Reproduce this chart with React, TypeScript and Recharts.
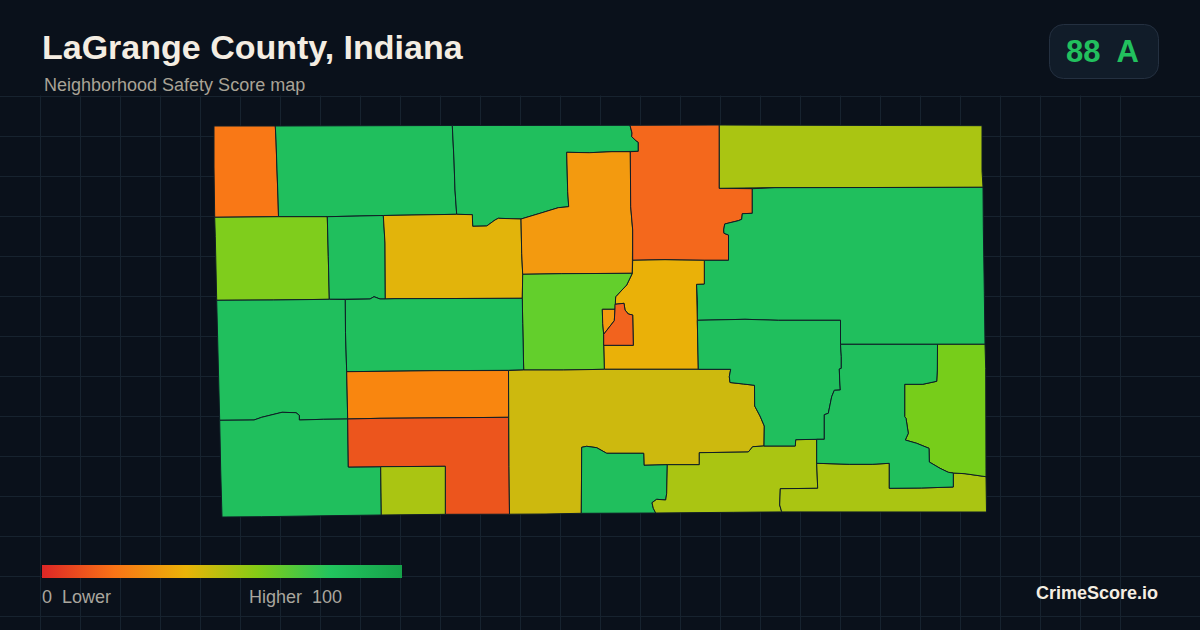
import React from "react";
import {
  CartesianGrid,
  ReferenceArea,
  Scatter,
  ScatterChart,
  XAxis,
  YAxis,
} from "recharts";

type Vertex = [number, number];

// tract outlines, in map units
const tractNorthwestCorner: Vertex[] = [[214, 126], [275.3, 126], [276, 140], [277, 170], [278, 198], [278.5, 216.7], [214.7, 217.3], [214, 167]];
const tractNorthA: Vertex[] = [[275.3, 126], [452.3, 125.5], [454, 160], [455, 190], [456.7, 214.3], [383.3, 215.5], [327.3, 216.7], [278.5, 216.7], [278, 198], [277, 170], [276, 140]];
const tractNorthB: Vertex[] = [[452.3, 125.5], [630, 125.3], [632, 133], [631.7, 136.7], [636, 140.7], [638.3, 142.3], [638.3, 151.3], [612, 151.7], [589.3, 152.7], [566.7, 152.3], [567.7, 191.7], [568.7, 206.7], [558.3, 207.7], [540, 213.3], [521, 219], [498.3, 218.3], [495, 220], [486.7, 226], [472.7, 226.3], [472.3, 214.7], [456.7, 214.3], [455, 190], [454, 160]];
const tractWestLime: Vertex[] = [[214.7, 217.3], [278.5, 216.7], [327.3, 216.7], [328.3, 256.7], [329.3, 299.3], [273.3, 300], [216.7, 300.3], [215.3, 236.7]];
const tractNarrow: Vertex[] = [[327.3, 216.7], [383.3, 215.5], [385, 243], [385.3, 299], [380, 299], [374, 296.7], [370, 299], [329.3, 299.3], [328.3, 256.7]];
const tractNorthYellow: Vertex[] = [[383.3, 215.5], [456.7, 214.3], [472.3, 214.7], [472.7, 226.3], [486.7, 226], [495, 220], [498.3, 218.3], [521, 219], [521.7, 253.3], [522.7, 274.3], [522.3, 298.3], [395, 298.7], [385.3, 299], [385, 243]];
const tractOrange: Vertex[] = [[521, 219], [540, 213.3], [558.3, 207.7], [568.7, 206.7], [567.7, 191.7], [566.7, 152.3], [589.3, 152.7], [612, 151.7], [630.3, 151.7], [630.7, 206.7], [632.7, 230], [632.3, 273.3], [561.7, 273.7], [522.7, 274.3], [521.7, 253.3]];
const tractNorthRed: Vertex[] = [[630, 125.3], [719.3, 125], [719.3, 188.3], [752.3, 188.7], [752.3, 213.3], [742.3, 213.7], [741.7, 219.3], [738.3, 220.7], [724.7, 224], [723.7, 230], [724, 233.3], [728.5, 235], [728.5, 260.3], [704.3, 260.3], [680, 260], [665, 259.7], [632.7, 260.3], [632.7, 230], [630.7, 206.7], [630.3, 151.7], [638.3, 151.3], [638.3, 142.3], [636, 140.7], [631.7, 136.7], [632, 133]];
const tractNortheastOlive: Vertex[] = [[719.3, 125], [888, 125.5], [982, 125.7], [982, 170.7], [983, 187.3], [775, 187.7], [719.3, 188.3]];
const tractEastLarge: Vertex[] = [[752.3, 188.7], [775, 187.7], [983, 187.3], [983.3, 226.7], [984.3, 292.7], [985, 344.3], [937.7, 344.3], [840.5, 344.3], [840.5, 320.3], [778.3, 320.3], [745, 319.3], [697.3, 320.3], [697.3, 300.7], [696.5, 284.3], [704.3, 284], [704.3, 260.3], [728.5, 260.3], [728.5, 235], [724, 233.3], [723.7, 230], [724.7, 224], [738.3, 220.7], [741.7, 219.3], [742.3, 213.7], [752.3, 213.3]];
const tractCentreYellow: Vertex[] = [[632.7, 260.3], [665, 259.7], [680, 260], [704.3, 260.3], [704.3, 284], [696.5, 284.3], [697.3, 320.3], [698.3, 369.3], [604.3, 369.3], [603.7, 345.3], [633.3, 345.3], [632.7, 315], [628.3, 314], [625, 310], [624, 303.3], [615, 304.3], [615.7, 296.7], [626.7, 285], [632.3, 273.3]];
const tractCentreLime: Vertex[] = [[522.7, 274.3], [561.7, 273.7], [632.3, 273.3], [626.7, 285], [615.7, 296.7], [615, 309.3], [602.3, 309.3], [602.7, 323.3], [603.7, 334.3], [603.7, 345.3], [604.3, 369.3], [563.3, 370], [523.7, 370], [522.7, 323.3], [522.3, 298.3]];
const tractTownOrange: Vertex[] = [[602.3, 309.3], [615, 309.3], [614.3, 320.7], [603.7, 334.3], [602.7, 323.3]];
const tractTownRed: Vertex[] = [[615, 304.3], [624, 303.3], [625, 310], [628.3, 314], [632.7, 315], [633.3, 345.3], [603.7, 345.3], [603.7, 334.3], [614.3, 320.7], [615, 309.3]];
const tractWestGreen: Vertex[] = [[216.7, 300.3], [273.3, 300], [329.3, 299.3], [345.3, 299.5], [345.5, 332.7], [346.7, 371.7], [347.7, 419], [323.3, 419.3], [299.3, 420], [299.3, 415.3], [296, 412.7], [282, 412.3], [261.7, 417.3], [254, 420], [219.7, 420.3], [218, 353]];
const tractSouthwest: Vertex[] = [[219.7, 420.3], [254, 420], [261.7, 417.3], [282, 412.3], [296, 412.7], [299.3, 415.3], [299.3, 420], [323.3, 419.3], [347.7, 419], [348.3, 467], [380.7, 466.7], [381.3, 515], [342, 515.5], [261.7, 516.7], [222, 517], [220.7, 470]];
const tractMiddleGreen: Vertex[] = [[345.3, 299.5], [370, 299], [374, 296.7], [380, 299], [385.3, 299], [395, 298.7], [522.3, 298.3], [522.7, 323.3], [523.7, 370], [508.5, 370.3], [435, 370.7], [346.7, 371.7], [345.5, 332.7]];
const tractOrangeStrip: Vertex[] = [[346.7, 371.7], [435, 370.7], [508.5, 370.5], [508.5, 417.3], [460, 417.7], [380, 418.3], [347.7, 419]];
const tractSouthRed: Vertex[] = [[347.7, 419], [380, 418.3], [460, 417.7], [508.5, 417.3], [509, 466.7], [509.5, 514.2], [445.3, 514.3], [445.3, 466.3], [380.7, 466.7], [348.3, 467]];
const tractSouthOlive: Vertex[] = [[380.7, 466.7], [445.3, 466.3], [445.3, 514.3], [381.3, 515]];
const tractBigYellow: Vertex[] = [[508.5, 370.5], [523.7, 370], [563.3, 370], [604.3, 369.3], [698.3, 369.3], [730.7, 369.3], [729.3, 376.7], [730, 382.5], [743.3, 384], [754.5, 385.3], [754.7, 406], [760, 416], [764.3, 426], [764, 446], [752.7, 446.7], [748.3, 452], [699.3, 452.7], [699.3, 464.7], [667.3, 464.7], [644, 465.3], [643.7, 453.3], [606.7, 453.3], [596.7, 447.7], [586.7, 446.3], [581.7, 447.3], [581.3, 513.3], [545, 514], [509.5, 514.2], [509, 466.7]];
const tractSouthGreen: Vertex[] = [[581.7, 447.3], [586.7, 446.3], [596.7, 447.7], [606.7, 453.3], [643.7, 453.3], [644, 465.3], [667.3, 464.7], [666.7, 493.3], [665.7, 500], [656.7, 499.3], [652, 502.7], [653.3, 508.3], [655.7, 513], [581.3, 513.3]];
const tractSouthMidOlive: Vertex[] = [[667.3, 464.7], [699.3, 464.7], [699.3, 452.7], [748.3, 452], [752.7, 446.7], [764, 446], [795.3, 446], [795.7, 439.7], [816.7, 439.3], [816.7, 463.3], [817.7, 488.3], [780.3, 488.7], [779.7, 505], [781.7, 511.9], [733.3, 512.3], [655.7, 513], [653.3, 508.3], [652, 502.7], [656.7, 499.3], [665.7, 500], [666.7, 493.3]];
const tractSoutheastOlive: Vertex[] = [[816.7, 463.3], [849.3, 464.3], [872.3, 464.3], [889.3, 463.3], [889.3, 488.3], [921.7, 488], [953.3, 487], [953.3, 473], [965, 473.7], [986, 476.7], [986.5, 512], [781.7, 511.9], [779.7, 505], [780.3, 488.7], [817.7, 488.3]];
const tractEastLime: Vertex[] = [[937.5, 344.3], [985, 344.3], [985.7, 368.3], [986, 476.7], [965, 473.7], [953.3, 473], [948.3, 472.3], [940, 468.3], [929.3, 462], [929, 448.3], [916.7, 443.3], [905.3, 440], [908.3, 433.3], [906, 418.3], [904.7, 416.7], [904.7, 384.3], [922.7, 384.3], [936.7, 381.3], [937.3, 370]];
const tractCentreEast: Vertex[] = [[697.3, 320.3], [745, 319.3], [778.3, 320.3], [840.5, 320.3], [840.5, 344.3], [841.3, 356.7], [841.3, 368.3], [839.3, 369], [839.7, 380], [840.3, 390], [834.3, 390.3], [831.7, 396.7], [828.3, 413.3], [824.3, 414.7], [824.3, 439.3], [816.7, 439.3], [795.7, 439.7], [795.3, 446], [764, 446], [764.3, 426], [760, 416], [754.7, 406], [754.5, 385.3], [743.3, 384], [730, 382.5], [729.3, 376.7], [730.7, 369.3], [698.3, 369.3]];
const tractLowerEast: Vertex[] = [[840.5, 344.3], [937.5, 344.3], [937.3, 370], [936.7, 381.3], [922.7, 384.3], [904.7, 384.3], [904.7, 416.7], [906, 418.3], [908.3, 433.3], [905.3, 440], [916.7, 443.3], [929, 448.3], [929.3, 462], [940, 468.3], [948.3, 472.3], [953.3, 473], [953.3, 487], [921.7, 488], [889.3, 488.3], [889.3, 463.3], [872.3, 464.3], [849.3, 464.3], [816.7, 463.3], [816.7, 439.3], [824.3, 439.3], [824.3, 414.7], [828.3, 413.3], [831.7, 396.7], [834.3, 390.3], [840.3, 390], [839.7, 380], [839.3, 369], [841.3, 368.3], [841.3, 356.7]];

// outline + estimated score of each tract
const tracts: [Vertex[], number][] = [
  [tractNorthwestCorner, 24],
  [tractNorthA, 88],
  [tractNorthB, 88],
  [tractWestLime, 72],
  [tractNarrow, 88],
  [tractNorthYellow, 47],
  [tractOrange, 36],
  [tractNorthRed, 20],
  [tractNortheastOlive, 62],
  [tractEastLarge, 89],
  [tractCentreYellow, 44],
  [tractCentreLime, 78],
  [tractTownOrange, 37],
  [tractTownRed, 19],
  [tractWestGreen, 88],
  [tractSouthwest, 88],
  [tractMiddleGreen, 88],
  [tractOrangeStrip, 29],
  [tractSouthRed, 14],
  [tractSouthOlive, 61],
  [tractBigYellow, 53],
  [tractSouthGreen, 87],
  [tractSouthMidOlive, 60],
  [tractSoutheastOlive, 60],
  [tractEastLime, 73],
  [tractCentreEast, 88],
  [tractLowerEast, 88],
];

const scoreColors: Record<number, string> = {
  14: "#ec551d",
  19: "#f2631e",
  20: "#f4681c",
  24: "#f97816",
  29: "#f9860f",
  36: "#f39a0f",
  37: "#f39a0f",
  44: "#eab108",
  47: "#e2b40b",
  53: "#cdb90e",
  60: "#aac512",
  61: "#aac512",
  62: "#aac512",
  72: "#7fcd1c",
  73: "#77cd1a",
  78: "#63cf2c",
  87: "#20bf5d",
  88: "#20bf5d",
  89: "#20bf5d",
};

const gridXs = [0, 40, 80, 120, 160, 200, 240, 280, 320, 360, 400, 440, 480, 520, 560, 600, 640, 680, 720, 760, 800, 840, 880, 920, 960, 1000, 1040, 1080, 1120, 1160, 1200];
const gridYs = [96, 136, 176, 216, 256, 296, 336, 376, 416, 456, 496, 536, 576, 616];

const NoDot = () => null;

const toPoints = (outline: Vertex[]) =>
  [...outline, outline[0]].map(([x, y]) => ({ x, y }));

const App: React.FC = () => {
  return (
    <div
      style={{
        position: "absolute",
        left: 0,
        top: 0,
        width: 1200,
        height: 630,
        background: "#0a111b",
      }}
    >
      <ScatterChart
        width={1200}
        height={630}
        margin={{ top: 0, right: 0, bottom: 0, left: 0 }}
      >
        <defs>
          <linearGradient id="scoreRamp" x1="0" y1="0" x2="1" y2="0">
            <stop offset="0%" stopColor="#dc2626" />
            <stop offset="20%" stopColor="#f97316" />
            <stop offset="40%" stopColor="#eab308" />
            <stop offset="60%" stopColor="#84cc16" />
            <stop offset="80%" stopColor="#22c55e" />
            <stop offset="100%" stopColor="#16a34a" />
          </linearGradient>
        </defs>
        <XAxis type="number" dataKey="x" domain={[0, 1200]} hide />
        <YAxis type="number" dataKey="y" domain={[0, 630]} reversed hide />
        <CartesianGrid
          stroke="#17232f"
          strokeWidth={1}
          shapeRendering="crispEdges"
          verticalValues={gridXs}
          horizontalValues={gridYs}
        />
        <ReferenceArea x1={0} x2={1200} y1={0} y2={95.5} fill="#0a111b" fillOpacity={1} stroke="none" />
        <ReferenceArea x1={42} x2={402} y1={565} y2={578} fill="url(#scoreRamp)" fillOpacity={1} stroke="none" />
        <ReferenceArea x1={1049.5} x2={1158.5} y1={24.5} y2={78.5} fill="#111c29" fillOpacity={1} stroke="#243040" radius={14} />
        {tracts.map(([outline, score], i) => (
          <Scatter
            key={i}
            data={toPoints(outline)}
            shape={NoDot}
            isAnimationActive={false}
            line={{
              fill: scoreColors[score],
              stroke: "#0f1d26",
              strokeWidth: 1,
              strokeLinejoin: "round",
            }}
          />
        ))}
      </ScatterChart>
      {/* the chart's reference areas paint over svg children, so the text sits on its own layer */}
      <svg
        width={1200}
        height={630}
        style={{ position: "absolute", left: 0, top: 0, pointerEvents: "none" }}
      >
        <text x={42} y={59} fill="#f4ede2" fontFamily="Liberation Sans" fontWeight={700} fontSize={34}>
          LaGrange County, Indiana
        </text>
        <text x={44} y={91} fill="#a9a396" fontFamily="Liberation Sans" fontSize={18}>
          Neighborhood Safety Score map
        </text>
        <text x={1066} y={62} fill="#22c05e" fontFamily="Liberation Sans" fontWeight={700} fontSize={31} xmlSpace="preserve">
          88  A
        </text>
        <text x={42} y={603} fill="#a9a69e" fontFamily="Liberation Sans" fontSize={18} xmlSpace="preserve">
          0  Lower
        </text>
        <text x={249} y={603} fill="#a9a69e" fontFamily="Liberation Sans" fontSize={18} xmlSpace="preserve">
          Higher  100
        </text>
        <text x={1158} y={599} textAnchor="end" fill="#f4ede2" fontFamily="Liberation Sans" fontWeight={700} fontSize={18}>
          CrimeScore.io
        </text>
      </svg>
    </div>
  );
};

export default App;
